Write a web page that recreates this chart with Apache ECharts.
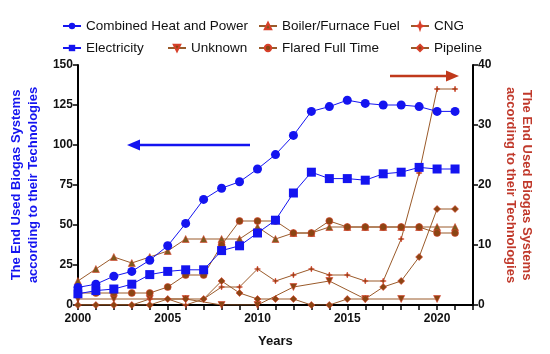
<!DOCTYPE html>
<html>
<head>
<meta charset="utf-8">
<script src="https://cdn.jsdelivr.net/npm/echarts@6/dist/echarts.min.js"></script>
<style>
html,body{margin:0;padding:0;background:#fff;}
#chart{width:550px;height:354px;}
</style>
</head>
<body>
<div id="chart"></div>
<script>
const years = [2000,2001,2002,2003,2004,2005,2006,2007,2008,2009,2010,2011,2012,2013,2014,2015,2016,2017,2018,2019,2020,2021];
const chp = [11,13,18,21,28,37,51,66,73,77,85,94,106,121,124,128,126,125,125,124,121,121];
const electricity = [7,9,10,13,19,21,22,22,34,37,45,53,70,83,79,79,78,82,83,86,85,85];
const boiler = [4,6,8,7,8,9,11,11,11,11,13,11,12,12,13,13,13,13,13,13,13,13];
const unknown = [1,null,1,null,1,null,1,null,0,null,0,null,3,null,4,null,1,null,1,null,1,null];
const flared = [2,2,2,2,2,3,5,5,10,14,14,14,12,12,14,13,13,13,13,13,12,12];
const cng = [0,0,0,0,1,1,0,1,3,3,6,4,5,6,5,5,4,4,11,22,36,36];
const pipeline = [0,0,0,0,0,1,1,1,4,2,1,1,1,0,0,1,1,3,4,8,16,16];
const leftTicks = [0,25,50,75,100,125,150];
const rightTicks = [0,10,20,30,40];
const xLabels = [2000,2005,2010,2015,2020];

const pairs = arr => years.map((y,i) => [y, arr[i]]);
const BLUE = '#1414f0';
const BROWN = '#9a5a2a';
const RED = '#c0392b';
const FONT = 'Liberation Sans, Arial, sans-serif';

function blueSeries(name, data, symbol, size){
  return {name, type:'line', yAxisIndex:0, data:pairs(data), symbol, symbolSize:size,
    lineStyle:{color:BLUE, width:1}, itemStyle:{color:BLUE}, z:3};
}
function brownSeries(name, data, symbol, size, fill){
  return {name, type:'line', yAxisIndex:1, data:pairs(data), symbol, symbolSize:size, connectNulls:true,
    lineStyle:{color:BROWN, width:1}, itemStyle:{color:fill||'#8b4513', borderColor:'#d8402a', borderWidth:0.6}, z:2};
}
const star = 'path://M0,-10 L2.5,-2.5 L10,0 L2.5,2.5 L0,10 L-2.5,2.5 L-10,0 L-2.5,-2.5 Z';

const legendBase = {orient:'vertical', itemWidth:18, itemHeight:8, itemGap:8,
  textStyle:{fontSize:13.5, fontFamily:FONT, color:'#111', lineHeight:14}};

const chart = echarts.init(document.getElementById('chart'), null, {renderer:'canvas'});
chart.setOption({
  animation:false,
  backgroundColor:'#fff',
  grid:{left:72, right:77, top:65, bottom:49},
  legend:[
    Object.assign({left:57, top:14, data:['Combined Heat and Power','Electricity']}, legendBase),
    Object.assign({left:162, top:36, data:['Unknown']}, legendBase),
    Object.assign({left:253, top:14, data:['Boiler/Furnace Fuel','Flared Full Time']}, legendBase),
    Object.assign({left:405, top:14, data:['CNG','Pipeline']}, legendBase)
  ],
  xAxis:{type:'value', min:2000, max:2022, interval:1,
    name:'Years', nameLocation:'middle', nameGap:30,
    nameTextStyle:{fontSize:13, fontWeight:'bold', fontFamily:FONT, color:'#111'},
    axisLine:{lineStyle:{color:'#000', width:2}},
    axisTick:{length:5, lineStyle:{color:'#000', width:1.5}},
    axisLabel:{fontSize:12, fontWeight:'bold', fontFamily:FONT, color:'#111', margin:8,
      formatter:v => xLabels.indexOf(v) >= 0 ? String(v) : ''},
    splitLine:{show:false}},
  yAxis:[
    {type:'value', min:leftTicks[0], max:leftTicks[leftTicks.length-1], interval:25, position:'left',
      name:'The End Used Biogas Systems\naccording to their Technologies', nameLocation:'middle', nameGap:32, nameRotate:90,
      nameTextStyle:{fontSize:13, fontWeight:'bold', fontFamily:FONT, color:BLUE, lineHeight:17},
      axisLine:{show:true, lineStyle:{color:'#000', width:2}},
      axisTick:{show:true, length:5, lineStyle:{color:'#000', width:1.5}},
      axisLabel:{fontSize:12, fontWeight:'bold', fontFamily:FONT, color:'#111', margin:5},
      splitLine:{show:false}},
    {type:'value', min:rightTicks[0], max:rightTicks[rightTicks.length-1], interval:10, position:'right',
      name:'The End Used Biogas Systems\naccording to their Technologies', nameLocation:'middle', nameGap:29, nameRotate:-90,
      nameTextStyle:{fontSize:13, fontWeight:'bold', fontFamily:FONT, color:RED, lineHeight:16},
      axisLine:{show:true, lineStyle:{color:'#000', width:2}},
      axisTick:{show:true, length:5, lineStyle:{color:'#000', width:1.5}},
      axisLabel:{fontSize:12, fontWeight:'bold', fontFamily:FONT, color:'#111', margin:5},
      splitLine:{show:false}}
  ],
  series:[
    brownSeries('Boiler/Furnace Fuel', boiler, 'triangle', 7, '#7d5a1e'),
    brownSeries('Unknown', unknown, 'path://M-10,-8 L10,-8 L0,10 Z', 7),
    brownSeries('Flared Full Time', flared, 'circle', 7),
    brownSeries('CNG', cng, star, 6),
    brownSeries('Pipeline', pipeline, 'diamond', 7),
    blueSeries('Combined Heat and Power', chp, 'circle', 9),
    blueSeries('Electricity', electricity, 'rect', 9)
  ],
  graphic:[
    {type:'line', shape:{x1:250, y1:145, x2:137, y2:145}, style:{stroke:BLUE, lineWidth:2.5}},
    {type:'polygon', shape:{points:[[127,145],[140,139.5],[140,150.5]]}, style:{fill:BLUE}},
    {type:'line', shape:{x1:390, y1:76, x2:448, y2:76}, style:{stroke:'#c0391b', lineWidth:2.5}},
    {type:'polygon', shape:{points:[[459,76],[446,70.5],[446,81.5]]}, style:{fill:'#c0391b'}}
  ]
});
</script>
</body>
</html>
